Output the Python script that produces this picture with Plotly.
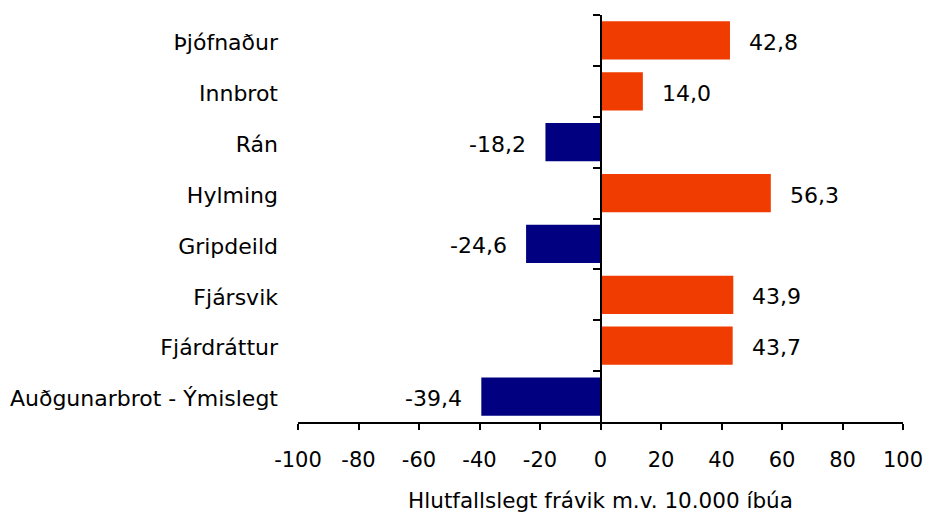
import plotly.graph_objects as go

categories = ["Þjófnaður", "Innbrot", "Rán", "Hylming", "Gripdeild",
              "Fjársvik", "Fjárdráttur", "Auðgunarbrot - Ýmislegt"]
values = [42.8, 14.0, -18.2, 56.3, -24.6, 43.9, 43.7, -39.4]
x_ticks = [-100, -80, -60, -40, -20, 0, 20, 40, 60, 80, 100]
x_title = "Hlutfallslegt frávik m.v. 10.000 íbúa"

POS = "#F03C00"
NEG = "#000080"
FONT = "DejaVu Sans"

colors = [POS if v >= 0 else NEG for v in values]
labels = [f"{v:.1f}".replace(".", ",") for v in values]

fig = go.Figure()
fig.add_trace(go.Bar(
    y=categories, x=values, orientation="h",
    marker=dict(color=colors, line=dict(width=0)),
    hoverinfo="skip", showlegend=False,
))
# invisible helper trace for the zero-line axis
fig.add_trace(go.Scatter(
    y=categories, x=[0] * len(categories), yaxis="y2", mode="markers",
    marker=dict(opacity=0), hoverinfo="skip", showlegend=False,
))

for c, v, t in zip(categories, values, labels):
    fig.add_annotation(
        x=v, y=c, text=t, showarrow=False,
        xanchor="left" if v >= 0 else "right",
        xshift=17 if v >= 0 else -17, yshift=-2,
        font=dict(family=FONT, size=22, color="#000000"),
    )

fig.update_layout(
    width=926, height=518,
    margin=dict(l=298, r=23, t=15, b=96),
    plot_bgcolor="white", paper_bgcolor="white",
    bargap=0.25,
    font=dict(family=FONT, size=22, color="#000000"),
    xaxis=dict(
        range=[-100, 100], tickvals=x_ticks,
        ticktext=[str(t) for t in x_ticks],
        showgrid=False, zeroline=False,
        showline=True, linecolor="#000000", linewidth=2,
        ticks="outside", ticklen=6, tickwidth=2, tickcolor="#000000",
        tickfont=dict(family=FONT, size=21), ticklabelstandoff=12,
        title=dict(text=x_title, font=dict(family=FONT, size=21.5), standoff=22),
        fixedrange=True, automargin=False,
    ),
    yaxis=dict(
        categoryorder="array", categoryarray=categories,
        autorange="reversed",
        showgrid=False, zeroline=False, showline=False,
        ticks="", ticklabelstandoff=19, ticklabelshift=-2,
        tickfont=dict(family=FONT, size=22), automargin=False,
        fixedrange=True,
    ),
    yaxis2=dict(
        overlaying="y", matches="y", anchor="free", position=0.5,
        side="left",
        categoryorder="array", categoryarray=categories,
        showgrid=False, zeroline=False,
        showline=True, linecolor="#000000", linewidth=2,
        ticks="outside", tickson="boundaries", ticklen=7, tickwidth=2,
        tickcolor="#000000", showticklabels=False, automargin=False,
    ),
)

fig.write_html("out.html", config={"displayModeBar": False},
               post_script="document.body.style.margin='0';")
